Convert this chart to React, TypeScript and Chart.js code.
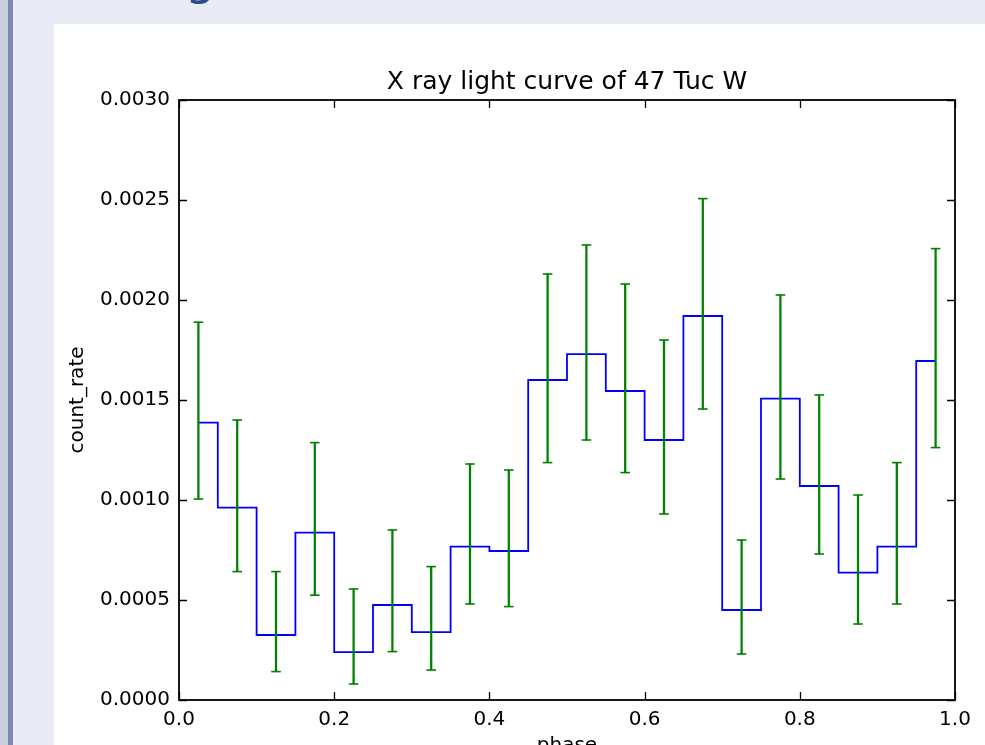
import React, { useEffect, useRef } from "react";
import { Chart, registerables } from "chart.js";

Chart.register(...registerables);

const TITLE = "X ray light curve of 47 Tuc W";
const X_LABEL = "phase";
const Y_LABEL = "count_rate";

const PHASE = [0.025, 0.075, 0.125, 0.175, 0.225, 0.275, 0.325, 0.375, 0.425, 0.475, 0.525, 0.575, 0.625, 0.675, 0.725, 0.775, 0.825, 0.875, 0.925, 0.975];
const COUNT_RATE = [0.001387, 0.000962, 0.000325, 0.000837, 0.000239, 0.000475, 0.000339, 0.000767, 0.000745, 0.0016, 0.001729, 0.001545, 0.0013, 0.00192, 0.00045, 0.001507, 0.00107, 0.000637, 0.000767, 0.001695];
const ERR_HIGH = [0.001889, 0.0014, 0.000642, 0.001287, 0.000555, 0.00085, 0.000667, 0.00118, 0.00115, 0.00213, 0.002275, 0.00208, 0.0018, 0.002507, 0.0008, 0.002025, 0.001525, 0.001025, 0.001187, 0.002257];
const ERR_LOW = [0.001005, 0.000642, 0.000142, 0.000524, 0.00008, 0.000242, 0.00015, 0.00048, 0.000467, 0.001187, 0.0013, 0.001137, 0.00093, 0.001455, 0.00023, 0.001105, 0.00073, 0.00038, 0.00048, 0.001262];

const X_MIN = 0;
const X_MAX = 1.0;
const X_STEP = 0.2;
const Y_MIN = 0;
const Y_MAX = 0.003;
const Y_STEP = 0.0005;

const FONT = "'DejaVu Sans', 'Liberation Sans', sans-serif";
const BLUE = "#0000ff";
const GREEN = "#008000";

const CANVAS_W = 985;
const CANVAS_H = 780;

const framePlugin = {
  id: "mplFrame",
  afterDatasetsDraw(chart: any) {
    const { ctx, chartArea } = chart;
    const { left, right, top, bottom } = chartArea;
    const xs = chart.scales.x;
    const ys = chart.scales.y;
    const tickLen = 8;
    ctx.save();
    ctx.strokeStyle = "#000";
    ctx.lineWidth = 1.3;
    ctx.beginPath();
    xs.ticks.forEach((t: any) => {
      const px = Math.round(xs.getPixelForValue(t.value)) + 0.5;
      ctx.moveTo(px, bottom);
      ctx.lineTo(px, bottom - tickLen);
      ctx.moveTo(px, top);
      ctx.lineTo(px, top + tickLen);
    });
    ys.ticks.forEach((t: any) => {
      const py = Math.round(ys.getPixelForValue(t.value)) + 0.5;
      ctx.moveTo(left, py);
      ctx.lineTo(left + tickLen, py);
      ctx.moveTo(right, py);
      ctx.lineTo(right - tickLen, py);
    });
    ctx.stroke();
    ctx.lineWidth = 1.8;
    ctx.strokeRect(left, top, right - left, bottom - top);
    ctx.restore();
  },
};

export default function App() {
  const canvasRef = useRef<HTMLCanvasElement | null>(null);

  useEffect(() => {
    const canvas = canvasRef.current;
    if (!canvas) return;
    const stepData = PHASE.map((x, i) => ({ x, y: COUNT_RATE[i] }));
    const errData = PHASE.map((x, i) => ({ x, y: [ERR_LOW[i], ERR_HIGH[i]] }));
    const capData = [
      ...PHASE.map((x, i) => ({ x, y: ERR_HIGH[i] })),
      ...PHASE.map((x, i) => ({ x, y: ERR_LOW[i] })),
    ];

    const chart = new Chart(canvas, {
      type: "line",
      data: {
        datasets: [
          {
            type: "bar",
            data: errData as any,
            backgroundColor: GREEN,
            borderWidth: 0,
            barThickness: 1.6,
            grouped: false,
            order: 0,
          } as any,
          {
            type: "scatter",
            data: capData,
            pointStyle: "line",
            pointRadius: 4.8,
            pointBorderColor: GREEN,
            borderColor: GREEN,
            pointBorderWidth: 1.6,
            showLine: false,
            order: 0,
          } as any,
          {
            type: "line",
            data: stepData,
            stepped: "middle",
            borderColor: BLUE,
            borderWidth: 1.8,
            pointRadius: 0,
            fill: false,
            order: 1,
          } as any,
        ],
      },
      options: {
        responsive: false,
        animation: false,
        devicePixelRatio: 1,
        layout: { padding: { left: 0, right: 30, top: 0, bottom: 0 } },
        plugins: {
          legend: { display: false },
          tooltip: { enabled: false },
          title: {
            display: true,
            text: TITLE,
            fullSize: false,
            color: "#000",
            font: { family: FONT, size: 25, weight: "normal" },
            padding: { top: 67, bottom: 3 },
          },
        },
        scales: {
          x: {
            type: "linear",
            min: X_MIN,
            max: X_MAX,
            offset: false,
            grid: { display: false },
            border: { display: false },
            ticks: {
              stepSize: X_STEP,
              color: "#000",
              font: { family: FONT, size: 20 },
              padding: 0,
              maxRotation: 0,
              callback: (v: any) => Number(v).toFixed(1),
            },
            title: {
              display: true,
              text: X_LABEL,
              color: "#000",
              font: { family: FONT, size: 20 },
              padding: { top: 0, bottom: 22 },
            },
            afterFit: (s: any) => {
              s.height = CANVAS_H - 700;
            },
          },
          y: {
            type: "linear",
            min: Y_MIN,
            max: Y_MAX,
            grid: { display: false },
            border: { display: false },
            ticks: {
              stepSize: Y_STEP,
              color: "#000",
              font: { family: FONT, size: 20 },
              padding: 1,
              callback: (v: any) => Number(v).toFixed(4),
            },
            title: {
              display: true,
              text: Y_LABEL,
              color: "#000",
              font: { family: FONT, size: 20 },
              padding: { top: 66, bottom: 0 },
            },
            afterFit: (s: any) => {
              s.width = 179;
            },
          },
        },
      },
      plugins: [framePlugin],
    } as any);

    return () => chart.destroy();
  }, []);

  return (
    <div
      style={{
        position: "fixed",
        left: 0,
        top: 0,
        width: 985,
        height: 745,
        overflow: "hidden",
        background: "#e8ebf4",
      }}
    >
      <div style={{ position: "absolute", left: 0, top: 0, width: 8, height: 745, background: "#c9cedb" }} />
      <div style={{ position: "absolute", left: 8, top: 0, width: 5, height: 745, background: "#7d8aab" }} />
      <div
        style={{
          position: "absolute",
          left: 185,
          top: -47,
          fontFamily: FONT,
          fontSize: 48,
          lineHeight: "48px",
          color: "#2c4a8c",
        }}
      >
        g
      </div>
      <div style={{ position: "absolute", left: 54, top: 24, right: 0, bottom: 0, background: "#ffffff" }} />
      <canvas
        ref={canvasRef}
        width={CANVAS_W}
        height={CANVAS_H}
        style={{ position: "absolute", left: 0, top: 0, width: CANVAS_W, height: CANVAS_H }}
      />
    </div>
  );
}
